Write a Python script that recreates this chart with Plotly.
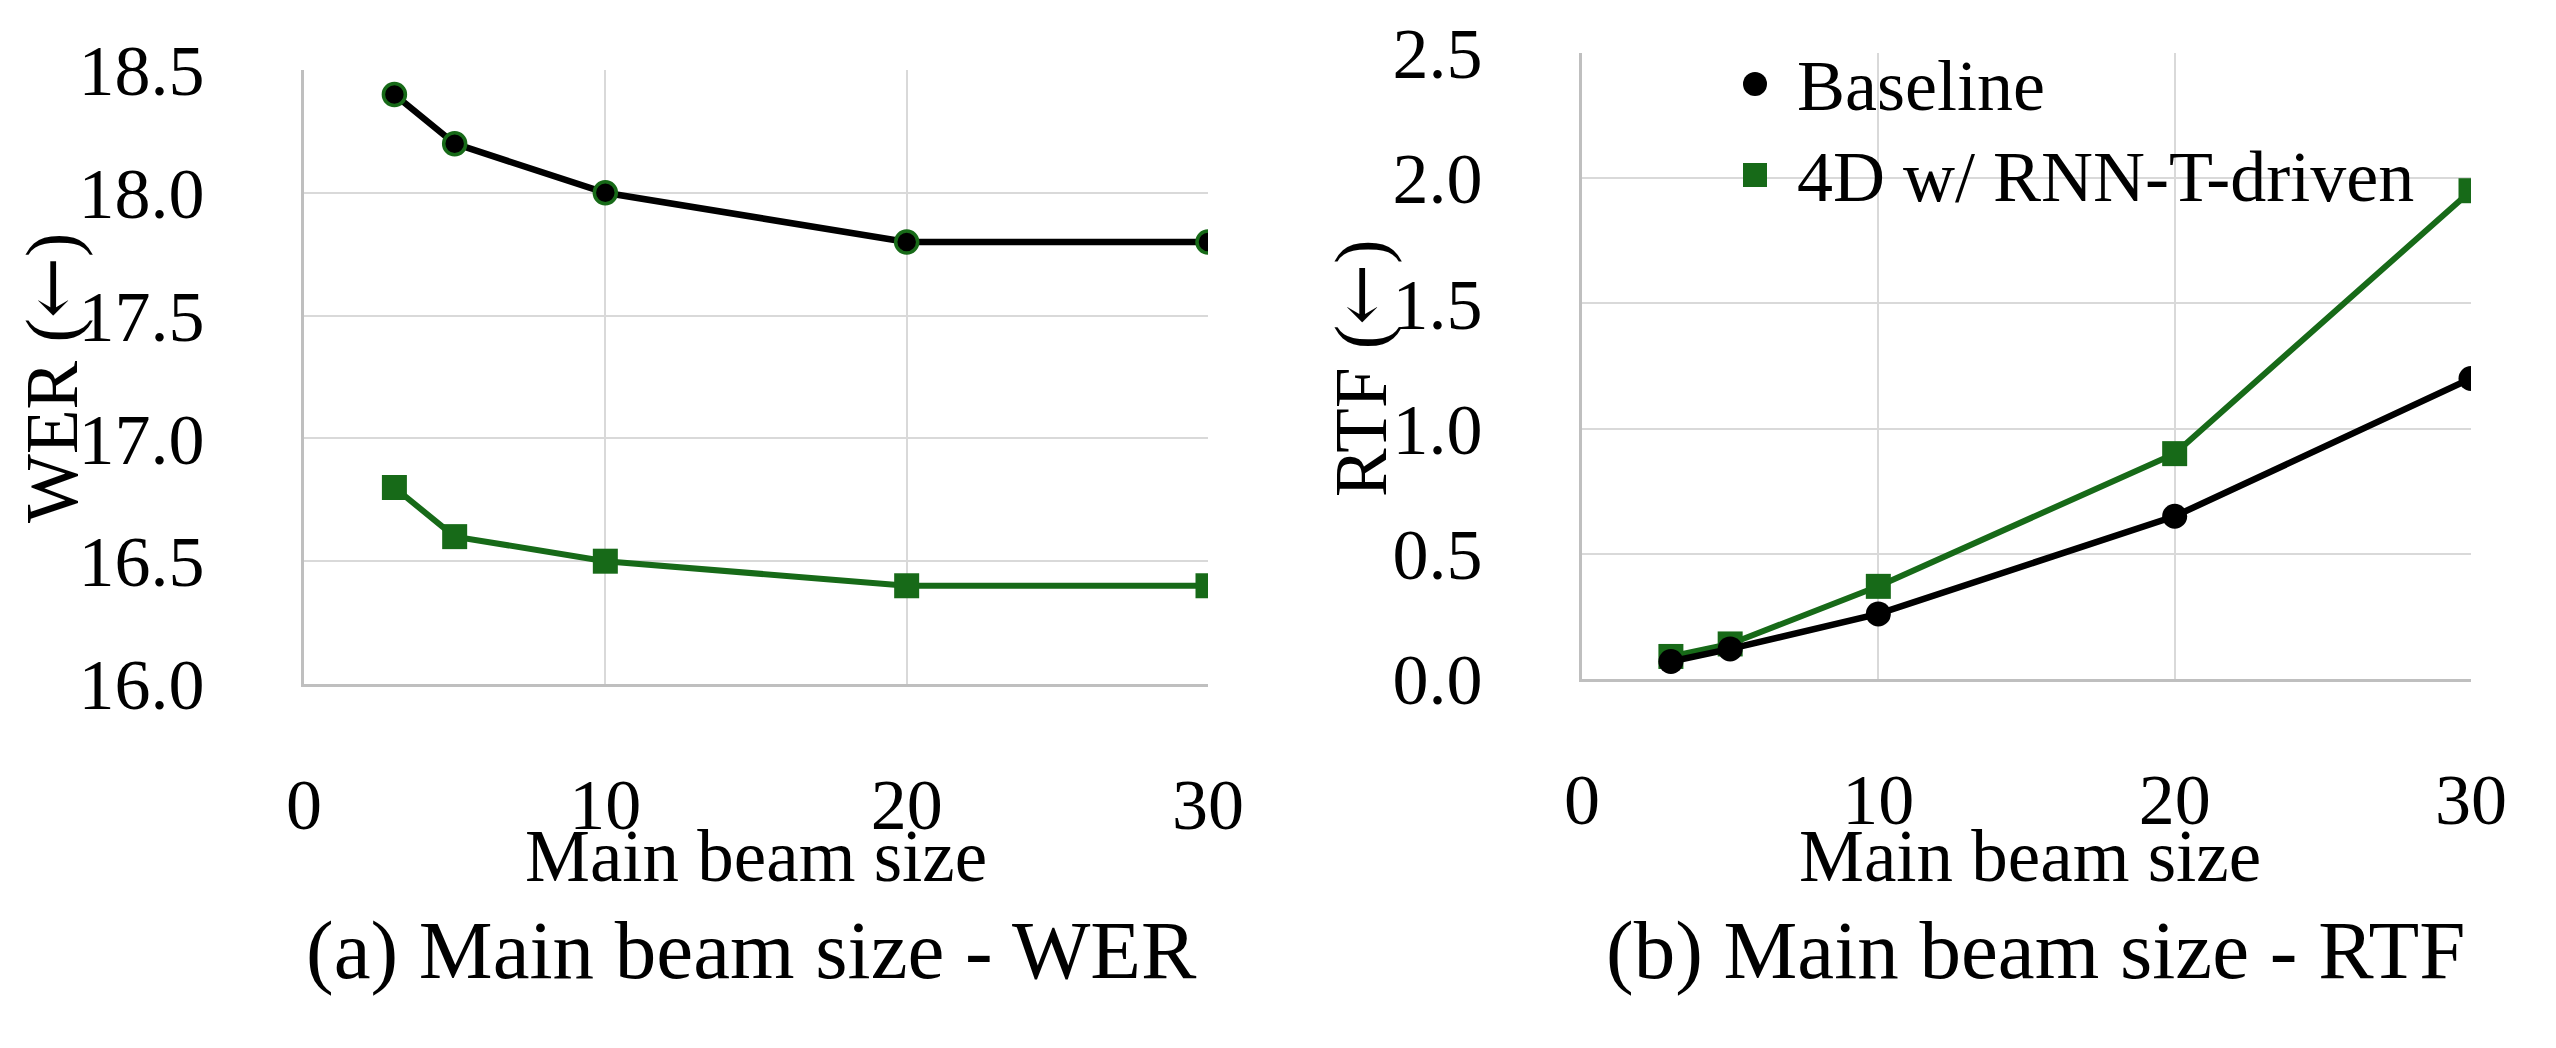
import plotly.graph_objects as go

# beam sizes on the x axis
beam_sizes = [3, 5, 10, 20, 30]

# (a) WER
wer_baseline = [18.4, 18.2, 18.0, 17.8, 17.8]
wer_4d = [16.8, 16.6, 16.5, 16.4, 16.4]

# (b) RTF
rtf_baseline = [0.07, 0.12, 0.26, 0.65, 1.20]
rtf_4d = [0.09, 0.14, 0.37, 0.90, 1.95]

series_names = ["Baseline", "4D w/ RNN-T-driven"]
x_ticks = [0, 10, 20, 30]
wer_ticks = [16.0, 16.5, 17.0, 17.5, 18.0, 18.5]
rtf_ticks = [0.0, 0.5, 1.0, 1.5, 2.0, 2.5]

# page body has an 8px default margin, so the figure is a bit smaller
OFF = 8
W, H = 2556 - 2 * OFF, 1048 - 2 * OFF
FONT = "Liberation Serif"
BLACK = "#000000"
GREEN = "#176a18"
GRID = "#d9d9d9"
AXIS = "#bfbfbf"


def px_x(v):
    # window pixel -> paper x
    return (v - OFF) / W


def px_y(v):
    # window pixel -> paper y
    return 1 - (v - OFF) / H


fig = go.Figure()

# left panel
fig.add_trace(go.Scatter(
    x=beam_sizes, y=wer_baseline, mode="lines+markers",
    line=dict(color=BLACK, width=6.5),
    marker=dict(symbol="circle", size=22, color=BLACK, line=dict(color=GREEN, width=3.5)),
    xaxis="x", yaxis="y", showlegend=False,
))
fig.add_trace(go.Scatter(
    x=beam_sizes, y=wer_4d, mode="lines+markers",
    line=dict(color=GREEN, width=6),
    marker=dict(symbol="square", size=25, color=GREEN),
    xaxis="x", yaxis="y", showlegend=False,
))

# right panel
fig.add_trace(go.Scatter(
    x=beam_sizes, y=rtf_4d, mode="lines+markers",
    line=dict(color=GREEN, width=6),
    marker=dict(symbol="square", size=25, color=GREEN),
    xaxis="x2", yaxis="y2", showlegend=False,
))
fig.add_trace(go.Scatter(
    x=beam_sizes, y=rtf_baseline, mode="lines+markers",
    line=dict(color=BLACK, width=6.5),
    marker=dict(symbol="circle", size=25, color=BLACK),
    xaxis="x2", yaxis="y2", showlegend=False,
))

tick_font = dict(family=FONT, size=72, color=BLACK)

xaxis_common = dict(
    range=[0, 30], tickvals=x_ticks, showgrid=True, gridcolor=GRID, gridwidth=2,
    showline=True, linecolor=AXIS, linewidth=3, zeroline=False,
    ticks="", tickfont=tick_font, ticklabelstandoff=56, fixedrange=True,
    automargin=False,
)
yaxis_common = dict(
    showgrid=True, gridcolor=GRID, gridwidth=2,
    showline=True, linecolor=AXIS, linewidth=3, zeroline=False,
    ticks="", tickfont=tick_font, ticklabelstandoff=82, tickformat=".1f",
    fixedrange=True, automargin=False,
)

fig.update_layout(
    width=W, height=H,
    margin=dict(l=0, r=0, t=0, b=0),
    paper_bgcolor="white", plot_bgcolor="white",
    showlegend=False,
    xaxis=dict(domain=[px_x(304), px_x(1208)], anchor="y", **xaxis_common),
    yaxis=dict(domain=[px_y(684), px_y(70)], anchor="x", range=[16.0, 18.5],
               tickvals=wer_ticks, **yaxis_common),
    xaxis2=dict(domain=[px_x(1582), px_x(2471)], anchor="y2", **xaxis_common),
    yaxis2=dict(domain=[px_y(679), px_y(53)], anchor="x2", range=[0, 2.5],
                tickvals=rtf_ticks, **yaxis_common),
)

title_font = dict(family=FONT, size=73, color=BLACK)
caption_font = dict(family=FONT, size=83, color=BLACK)
arrow = "<span style='font-family:DejaVu Serif'>\u2190</span>"

annotations = [
    dict(text="Main beam size", x=px_x(756), y=px_y(856), font=title_font),
    dict(text="Main beam size", x=px_x(2030), y=px_y(856), font=title_font),
    dict(text="(a) Main beam size - WER", x=px_x(751), y=px_y(950), font=caption_font),
    dict(text="(b) Main beam size - RTF", x=px_x(2035), y=px_y(950), font=caption_font),
    dict(text="WER (" + arrow + ")", x=px_x(52), y=px_y(378), textangle=-90, font=title_font),
    dict(text="RTF (" + arrow + ")", x=px_x(1361), y=px_y(368), textangle=-90, font=title_font),
]
for a in annotations:
    a.update(xref="paper", yref="paper", showarrow=False, xanchor="center", yanchor="middle")

# hand-made legend inside the right panel
legend_font = dict(family=FONT, size=72, color=BLACK)
legend_rows = [(84, "circle", BLACK), (175, "square", GREEN)]
shapes = []
for (cy, sym, col), name in zip(legend_rows, series_names):
    half = 12
    shapes.append(dict(
        type="circle" if sym == "circle" else "rect",
        xref="paper", yref="paper",
        x0=px_x(1755 - half), x1=px_x(1755 + half),
        y0=px_y(cy + half), y1=px_y(cy - half),
        fillcolor=col, line=dict(width=0),
    ))
    annotations.append(dict(
        text=name, xref="paper", yref="paper", x=px_x(1795), y=px_y(cy + 2),
        xanchor="left", yanchor="middle", showarrow=False, font=legend_font,
    ))

fig.update_layout(annotations=annotations, shapes=shapes)

fig.write_html("out.html")
